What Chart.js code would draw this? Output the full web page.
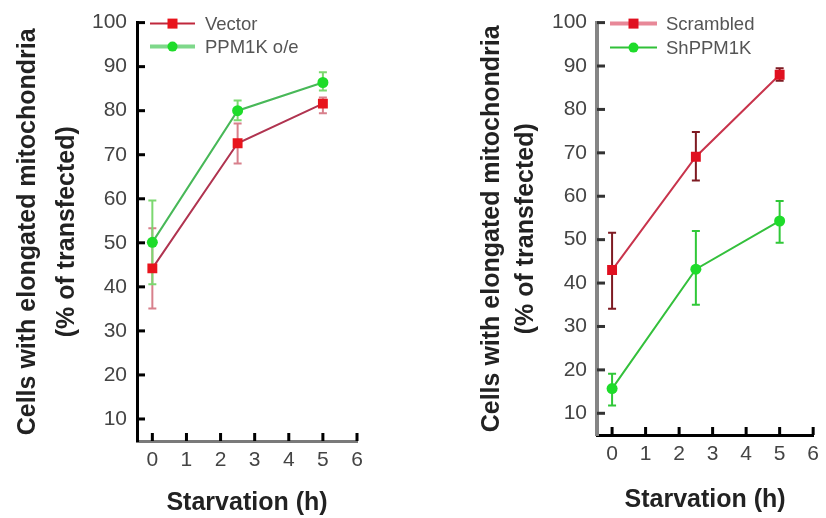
<!DOCTYPE html>
<html><head><meta charset="utf-8">
<script src="https://cdn.jsdelivr.net/npm/chart.js@4/dist/chart.umd.min.js"></script>
<style>
html,body{margin:0;padding:0;background:#fff;width:826px;height:518px;overflow:hidden}
.box{position:absolute;top:0;height:518px}
#b1{left:0;width:380px}
#b2{left:440px;width:386px}
canvas{display:block}
</style></head><body>
<div class="box" id="b1"><canvas id="c1" width="380" height="518"></canvas></div>
<div class="box" id="b2"><canvas id="c2" width="386" height="518"></canvas></div>
<script>
// ---- data ----
const hours = [0, 2.5, 5];
const xTickValues = [0, 1, 2, 3, 4, 5, 6];
const yTickValues = [10, 20, 30, 40, 50, 60, 70, 80, 90, 100];
const xTitle = 'Starvation (h)';
const yTitle = ['Cells with elongated mitochondria', '(% of transfected)'];

const vectorLabel = 'Vector';
const vectorMean = [44.2, 72.6, 81.6];
const vectorLow  = [35.1, 68.0, 79.4];
const vectorHigh = [53.3, 77.1, 83.0];

const ppmOeLabel = 'PPM1K o/e';
const ppmOeMean = [50.1, 80.0, 86.4];
const ppmOeLow  = [40.6, 77.8, 84.6];
const ppmOeHigh = [59.6, 82.3, 88.7];

const scrambledLabel = 'Scrambled';
const scrambledMean = [43.0, 69.1, 88.0];
const scrambledLow  = [34.1, 63.6, 86.6];
const scrambledHigh = [51.6, 74.8, 89.5];

const shLabel = 'ShPPM1K';
const shMean = [15.7, 43.2, 54.3];
const shLow  = [11.8, 35.0, 49.3];
const shHigh = [19.1, 52.0, 58.9];

// ---- plugins ----
const errorBars = {
  id: 'errorBars',
  beforeDatasetsDraw(chart) {
    const {ctx, scales: {x, y}} = chart;
    chart.data.datasets.forEach(ds => {
      ctx.save();
      ctx.strokeStyle = ds.errColor;
      ctx.lineWidth = 2;
      ds.data.forEach((p, i) => {
        const px = x.getPixelForValue(p.x);
        const yl = y.getPixelForValue(ds.errLow[i]);
        const yh = y.getPixelForValue(ds.errHigh[i]);
        ctx.beginPath();
        ctx.moveTo(px, yl); ctx.lineTo(px, yh);
        ctx.moveTo(px - 4, yl); ctx.lineTo(px + 4, yl);
        ctx.moveTo(px - 4, yh); ctx.lineTo(px + 4, yh);
        ctx.stroke();
      });
      ctx.restore();
    });
  }
};

const tickMarks = {
  id: 'tickMarks',
  afterDraw(chart, args, opts) {
    const {ctx, chartArea: ca, scales: {x, y}} = chart;
    ctx.save();
    ctx.fillStyle = opts.yColor;
    yTickValues.forEach(v => {
      const py = y.getPixelForValue(v);
      ctx.fillRect(ca.left, py - 1.5, 8, 3);
    });
    ctx.fillStyle = '#000';
    xTickValues.forEach(v => {
      const px = x.getPixelForValue(v);
      ctx.fillRect(px - 1.5, ca.bottom - 8, 3, 8);
    });
    ctx.restore();
  }
};

const sideLegend = {
  id: 'sideLegend',
  afterDraw(chart, args, opts) {
    const {ctx, chartArea: ca} = chart;
    ctx.save();
    chart.data.datasets.forEach((ds, i) => {
      const yy = ca.top + opts.dy[i];
      const x0 = ca.left + opts.x0, x1 = ca.left + opts.x1;
      ctx.strokeStyle = ds.legendLine;
      ctx.lineWidth = ds.legendWidth;
      ctx.beginPath(); ctx.moveTo(x0, yy); ctx.lineTo(x1, yy); ctx.stroke();
      const mx = (x0 + x1) / 2;
      ctx.fillStyle = ds.pointBackgroundColor;
      if (ds.pointStyle === 'rect') {
        ctx.fillRect(mx - 5, yy - 5, 10, 10);
      } else {
        ctx.beginPath(); ctx.arc(mx, yy, 5, 0, Math.PI * 2); ctx.fill();
      }
      ctx.fillStyle = '#555';
      ctx.font = '18.5px "Liberation Sans", Arial, sans-serif';
      ctx.textBaseline = 'middle';
      ctx.textAlign = 'left';
      ctx.fillText(ds.label, ca.left + opts.tx, yy + 1);
    });
    ctx.restore();
  }
};

const FONT = '"Liberation Sans", Arial, sans-serif';

function makeDs(label, mean, low, high, c) {
  return {
    label,
    data: hours.map((h, i) => ({x: h, y: mean[i]})),
    errLow: low, errHigh: high,
    errColor: c.err,
    legendLine: c.legend, legendWidth: c.legendWidth,
    showLine: true,
    borderColor: c.line,
    borderWidth: 2,
    pointStyle: c.style,
    pointRadius: c.style === 'rect' ? 7 : 5.5,
    pointHoverRadius: c.style === 'rect' ? 7 : 5.5,
    pointBackgroundColor: c.marker,
    pointBorderColor: c.marker,
    pointBorderWidth: 0,
    tension: 0
  };
}

function makeChart(id, datasets, p) {
  return new Chart(document.getElementById(id), {
    type: 'scatter',
    data: {datasets},
    options: {
      responsive: false,
      animation: false,
      events: [],
      layout: {padding: {top: p.top, right: p.right, left: 0, bottom: 0}},
      plugins: {
        legend: {display: false},
        tooltip: {enabled: false},
        sideLegend: p.legend,
        tickMarks: {yColor: p.yTickColor}
      },
      scales: {
        x: {
          type: 'linear', position: 'bottom',
          min: -0.45, max: 6,
          afterFit: s => { s.height = p.xHeight; },
          ticks: {stepSize: 1, includeBounds: false, color: '#444', padding: 7,
                  font: {family: FONT, size: 21}},
          grid: {display: false, drawTicks: false},
          border: {display: true, color: p.xBorder, width: 3},
          title: {display: true, text: xTitle, color: '#222',
                  font: {family: FONT, size: 25, weight: 'bold', lineHeight: 1.2},
                  padding: {top: 0, bottom: p.xTitlePad}}
        },
        y: {
          type: 'linear', position: 'left',
          min: 5, max: 100,
          afterFit: s => { s.width = p.yWidth; },
          ticks: {stepSize: 10, includeBounds: false, color: '#444', padding: 10,
                  font: {family: FONT, size: 21}},
          grid: {display: false, drawTicks: false},
          border: {display: true, color: p.yBorder, width: p.yBorderWidth},
          title: {display: true, text: yTitle, color: '#222',
                  font: {family: FONT, size: 25, weight: 'bold', lineHeight: p.yLH},
                  padding: {top: p.yTitlePad, bottom: 0}}
        }
      }
    },
    plugins: [errorBars, sideLegend, tickMarks]
  });
}

makeChart('c1', [
  makeDs(vectorLabel, vectorMean, vectorLow, vectorHigh,
    {marker: '#e8141c', line: '#b03450', err: '#d8808c', style: 'rect', legend: '#c0283c', legendWidth: 2}),
  makeDs(ppmOeLabel, ppmOeMean, ppmOeLow, ppmOeHigh,
    {marker: '#1edc2a', line: '#48b858', err: '#7cd870', style: 'circle', legend: '#7ed88a', legendWidth: 4})
], {top: 21, right: 23, xHeight: 77, yWidth: 137, xBorder: '#7a7a7a', yBorder: '#000', yBorderWidth: 3,
    yTickColor: '#000', xTitlePad: 0, yLH: 1.56, yTitlePad: 8.5,
    legend: {x0: 13, x1: 58, tx: 68, dy: [1, 24]}});

makeChart('c2', [
  makeDs(scrambledLabel, scrambledMean, scrambledLow, scrambledHigh,
    {marker: '#e01020', line: '#c8344c', err: '#7e1a22', style: 'rect', legend: '#e88898', legendWidth: 4}),
  makeDs(shLabel, shMean, shLow, shHigh,
    {marker: '#1edc2a', line: '#34c03c', err: '#30c838', style: 'circle', legend: '#30c038', legendWidth: 2})
], {top: 17, right: 6, xHeight: 83, yWidth: 157, xBorder: '#000', yBorder: '#858585', yBorderWidth: 4,
    yTickColor: '#333', xTitlePad: 3, yLH: 1.36, yTitlePad: 35,
    legend: {x0: 13, x1: 60, tx: 69, dy: [1, 25]}});
</script>
</body></html>
